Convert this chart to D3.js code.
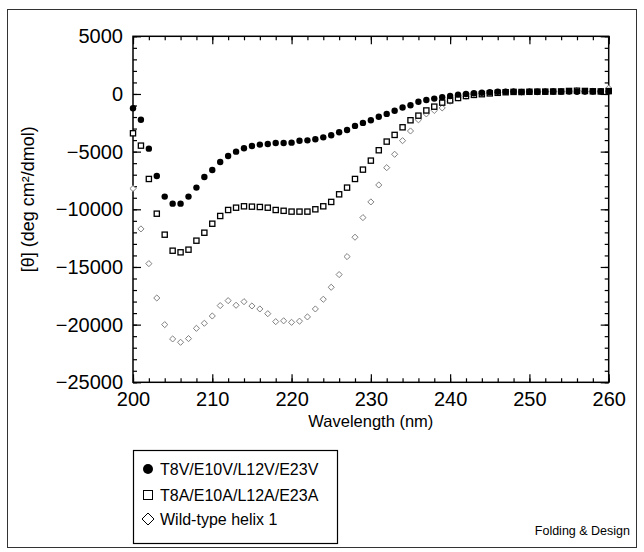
<!DOCTYPE html>
<html>
<head>
<meta charset="utf-8">
<script src="https://cdn.jsdelivr.net/npm/d3@7"></script>
<style>
  html, body { margin: 0; padding: 0; background: #fff; }
  svg { display: block; font-family: "Liberation Sans", Arial, Helvetica, sans-serif; }
</style>
</head>
<body>
<svg id="chart" width="644" height="552"></svg>
<script>
const wavelengths = [200,201,202,203,204,205,206,207,208,209,210,211,212,213,214,215,216,217,218,219,220,221,222,223,224,225,226,227,228,229,230,231,232,233,234,235,236,237,238,239,240,241,242,243,244,245,246,247,248,249,250,251,252,253,254,255,256,257,258,259,260];

const valineMutant = [-1240,-2230,-4740,-7110,-8900,-9510,-9510,-8900,-8120,-7200,-6590,-5900,-5375,-5000,-4710,-4510,-4390,-4335,-4250,-4250,-4220,-4050,-4020,-3930,-3760,-3580,-3320,-3120,-2770,-2510,-2280,-1970,-1730,-1450,-1170,-980,-680,-520,-400,-280,-180,-60,0,60,110,150,190,190,200,180,200,190,200,210,200,210,190,220,210,220,240];

const alanineMutant = [-3410,-4480,-7370,-10380,-12200,-13590,-13730,-13500,-12720,-12030,-11250,-10580,-10060,-9860,-9740,-9770,-9800,-9860,-10060,-10130,-10200,-10200,-10200,-10000,-9740,-9360,-8700,-8120,-7370,-6560,-5780,-4880,-4130,-3550,-2890,-2280,-1880,-1430,-1100,-750,-560,-350,-180,-80,-20,50,100,150,180,170,190,200,200,210,220,260,280,260,230,220,250];

const wildType = [-8200,-11700,-14710,-17690,-20000,-21240,-21530,-21210,-20320,-19880,-19250,-18350,-17920,-18320,-18010,-18380,-18640,-19050,-19740,-19670,-19800,-19700,-19330,-18640,-17800,-16760,-15660,-14100,-12420,-10720,-9360,-7890,-6390,-5230,-4050,-3210,-2240,-1730,-1430,-1210,-630,-350,-200,-60,20,80,120,180,230,150,200,160,220,200,230,250,300,200,240,250,500];

const seriesNames = ["T8V/E10V/L12V/E23V", "T8A/E10A/L12A/E23A", "Wild-type helix 1"];
const xTicks = [200,210,220,230,240,250,260];
const yTicks = [5000,0,-5000,-10000,-15000,-20000,-25000];
const xLabel = "Wavelength (nm)";
const yLabel = "[θ] (deg cm²/dmol)";
const credit = "Folding & Design";

const svg = d3.select("#chart");
const L = 133, R = 608.7, T = 36.3, B = 382.3;

const x = d3.scaleLinear().domain([200, 260]).range([L, R]);
const y = d3.scaleLinear().domain([-25000, 5000]).range([B, T]);

// outer figure frame
svg.append("rect").attr("x", 7.5).attr("y", 9.5).attr("width", 629).attr("height", 538)
  .attr("fill", "none").attr("stroke", "#333").attr("stroke-width", 1);

const fmt = d3.format("d");
const xMinor = d3.range(200, 261, 2);
const yMinor = d3.range(-25000, 5001, 1000);

function styleAxis(g, labels) {
  g.select(".domain").remove();
  g.selectAll(".tick line").attr("stroke", "#000").attr("stroke-width", 1.2);
  g.selectAll(".tick text").attr("fill", "#000").style("font-size", labels ? "20px" : "0px")
    .style("font-family", '"Liberation Sans", Arial, sans-serif');
}

// minor ticks
svg.append("g").attr("transform", `translate(${L},0)`)
  .call(d3.axisLeft(y).tickValues(yMinor).tickSize(-4).tickFormat("")).call(g => styleAxis(g, false));
svg.append("g").attr("transform", `translate(${R},0)`)
  .call(d3.axisRight(y).tickValues(yMinor).tickSize(-4).tickFormat("")).call(g => styleAxis(g, false));
svg.append("g").attr("transform", `translate(0,${T})`)
  .call(d3.axisTop(x).tickValues(xMinor).tickSize(-4).tickFormat("")).call(g => styleAxis(g, false));
svg.append("g").attr("transform", `translate(0,${B})`)
  .call(d3.axisBottom(x).tickValues(xMinor).tickSize(-4).tickFormat("")).call(g => styleAxis(g, false));

// major ticks
svg.append("g").attr("transform", `translate(${L},0)`)
  .call(d3.axisLeft(y).tickValues(yTicks).tickSize(-8).tickPadding(10).tickFormat(fmt)).call(g => styleAxis(g, true));
svg.append("g").attr("transform", `translate(${R},0)`)
  .call(d3.axisRight(y).tickValues(yTicks).tickSize(-8).tickFormat("")).call(g => styleAxis(g, false));
svg.append("g").attr("transform", `translate(0,${T})`)
  .call(d3.axisTop(x).tickValues(xTicks).tickSize(-8).tickFormat("")).call(g => styleAxis(g, false));
svg.append("g").attr("transform", `translate(0,${B})`)
  .call(d3.axisBottom(x).tickValues(xTicks).tickSize(-8).tickPadding(10).tickFormat(fmt)).call(g => styleAxis(g, true));

// plot frame
svg.append("rect").attr("x", L).attr("y", T).attr("width", R - L).attr("height", B - T)
  .attr("fill", "none").attr("stroke", "#000").attr("stroke-width", 1.5);

// axis titles
svg.append("text").attr("x", (L + R) / 2).attr("y", 427).attr("text-anchor", "middle")
  .style("font-size", "16.5px").text(xLabel);
svg.append("text").attr("transform", `translate(34,${(T + B) / 2 - 10}) rotate(-90)`)
  .attr("text-anchor", "middle").style("font-size", "18px").text(yLabel);

// data
const pts = (vals) => wavelengths.map((w, i) => ({ w, v: vals[i] }));

svg.append("g").selectAll("path").data(pts(wildType)).join("path")
  .attr("transform", d => `translate(${x(d.w)},${y(d.v)})`)
  .attr("d", d3.symbol(d3.symbolDiamond2, 24)())
  .attr("fill", "#fff").attr("stroke", "#808080").attr("stroke-width", 1);

svg.append("g").selectAll("rect").data(pts(alanineMutant)).join("rect")
  .attr("x", d => x(d.w) - 2.6).attr("y", d => y(d.v) - 2.6)
  .attr("width", 5.2).attr("height", 5.2)
  .attr("fill", "#fff").attr("stroke", "#000").attr("stroke-width", 1.3);

svg.append("g").selectAll("circle").data(pts(valineMutant)).join("circle")
  .attr("cx", d => x(d.w)).attr("cy", d => y(d.v)).attr("r", 3.2)
  .attr("fill", "#000");

// legend
const lg = svg.append("g");
lg.append("rect").attr("x", 133.5).attr("y", 450.5).attr("width", 204).attr("height", 93)
  .attr("fill", "#fff").attr("stroke", "#000").attr("stroke-width", 1.2);
const rowsY = [469, 495, 519];
lg.append("circle").attr("cx", 148).attr("cy", rowsY[0]).attr("r", 5).attr("fill", "#000");
lg.append("rect").attr("x", 143.5).attr("y", rowsY[1] - 4.5).attr("width", 9).attr("height", 9)
  .attr("fill", "#fff").attr("stroke", "#000").attr("stroke-width", 1);
lg.append("path").attr("transform", `translate(148,${rowsY[2]})`)
  .attr("d", "M0,-6L6,0L0,6L-6,0Z").attr("fill", "#fff").attr("stroke", "#000").attr("stroke-width", 1);
lg.selectAll("text").data(seriesNames).join("text")
  .attr("x", 160).attr("y", (d, i) => rowsY[i] + 5.8)
  .style("font-size", "16px").text(d => d);

svg.append("text").attr("x", 630).attr("y", 535).attr("text-anchor", "end")
  .style("font-size", "12.5px").text(credit);
</script>
</body>
</html>
